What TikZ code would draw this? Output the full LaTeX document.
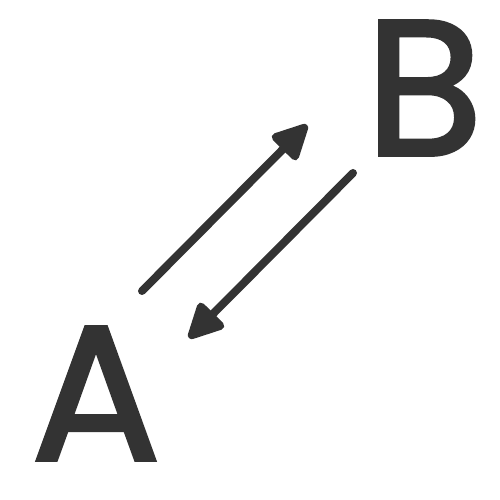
\documentclass[tikz,border=0pt]{standalone}
\usepackage{fontspec}
\setmainfont{Poppins}[FakeBold=2]
\usetikzlibrary{arrows.meta}
\definecolor{ink}{HTML}{333333}
\begin{document}
\begin{tikzpicture}[x=1pt,y=1pt,
  letter/.style={text=ink,inner sep=0pt,anchor=base,text depth=0pt,font=\fontsize{192}{192}\selectfont},
  arr/.style={draw=ink,line width=8pt,line cap=round,-{Triangle[length=40pt,width=38pt,round]}}]
\useasboundingbox (0,0) rectangle (500,500);
\node[letter] (A) at (96,40) {A};
\node[letter] (B) at (424,345) {B};
\coordinate (a1) at (142,209);
\coordinate (b1) at (307,375);
\coordinate (a2) at (189,162);
\coordinate (b2) at (353,327);
\draw[arr] (a1) -- (b1);
\draw[arr] (b2) -- (a2);
\end{tikzpicture}
\end{document}
